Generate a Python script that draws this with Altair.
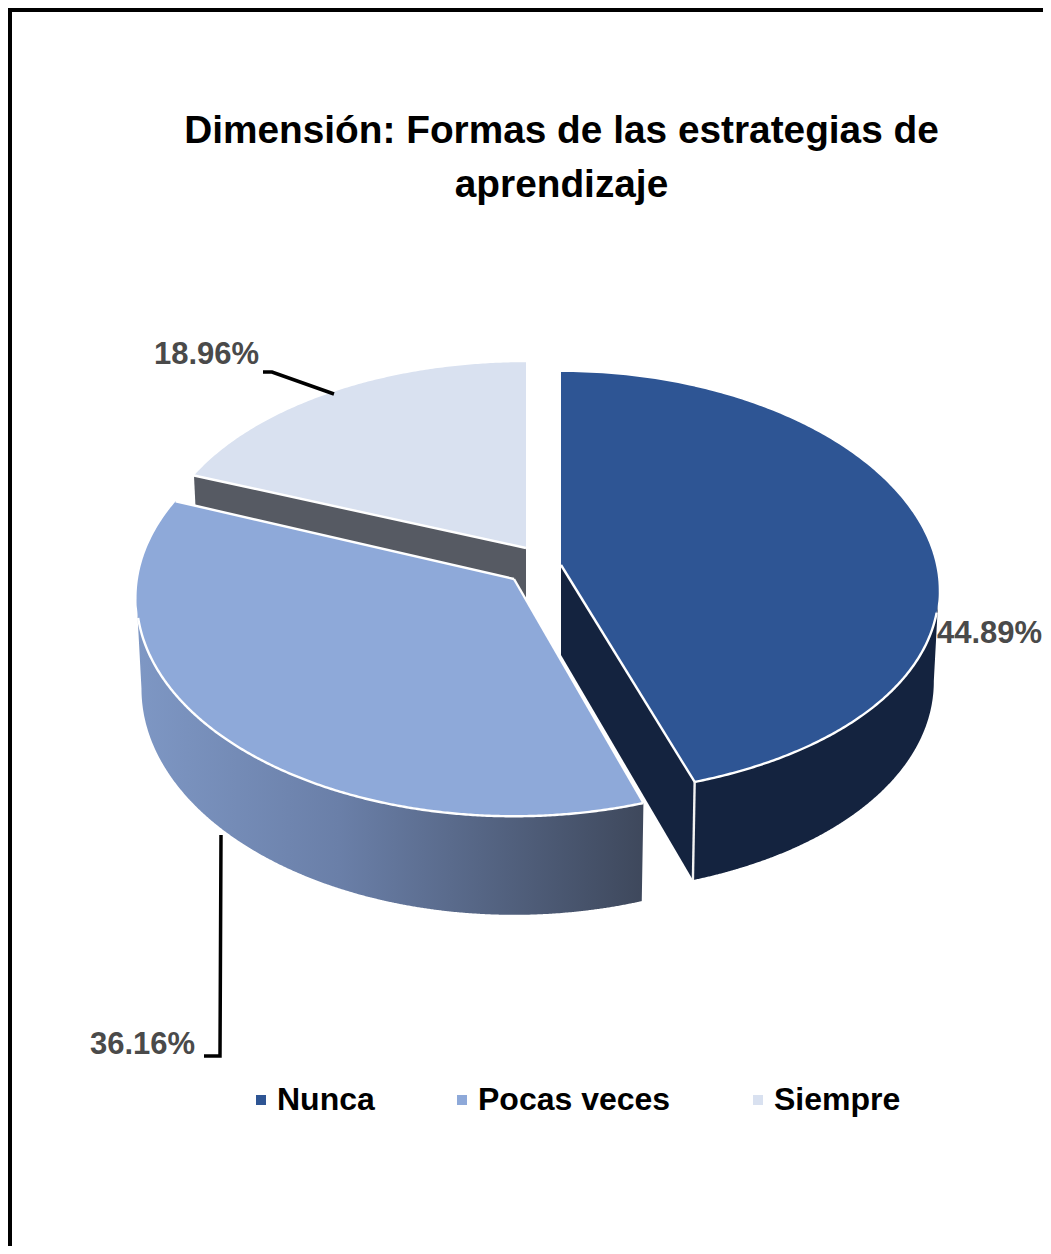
import numpy as np
import pandas as pd
import altair as alt

# ---- chart values ----
CATEGORIES = ["Nunca", "Pocas veces", "Siempre"]
VALUES = [44.89, 36.16, 18.96]
LABELS = ["44.89%", "36.16%", "18.96%"]
TITLE = ["Dimensión: Formas de las estrategias de", "aprendizaje"]

# ---- styling ----
COLORS = ["#2e5594", "#8ea9d9", "#d9e1f0"]
NAVY = "#14233f"
GREY = "#565a63"
FONT = "Liberation Sans"
W, H = 1035, 1238

# ---- pie geometry (perspective disc, exploded slices) ----
KY = 0.087
DEPTH = 90
SHRINK = 0.987
GEOM = {  # apex x, apex y, radius x, radius y, x perspective
    "Nunca": (561, 565, 375, 209.8, 0.12),
    "Pocas veces": (514, 579, 376, 216.6, 0.087),
    "Siempre": (526, 548, 369, 202, 0.087),
}
shares = np.array(VALUES) / sum(VALUES) * 360
starts = np.concatenate([[0], np.cumsum(shares)[:-1]])


def top(cat, deg):
    x0, y0, a, b, kx = GEOM[cat]
    t = np.radians(deg)
    u, v = np.sin(t), -np.cos(t)
    return x0 + a * u / (1 - kx * v), y0 + b * v / (1 - KY * v)


def bottom(cat, xs, ys):
    x0, y0, a, b, kx = GEOM[cat]
    v = (ys - y0) / b
    v = v / (1 + KY * v)
    return x0 + (xs - x0) * SHRINK, ys + DEPTH / (1 - KY * v)


def to_area(px, py):
    """Turn an x-monotone polygon into x / y / y2 columns for an area mark."""
    px, py = np.asarray(px, float), np.asarray(py, float)
    n = len(px)
    i0, i1 = int(np.argmin(px)), int(np.argmax(px))
    ia = [(i0 + k) % n for k in range((i1 - i0) % n + 1)]
    ib = [(i1 + k) % n for k in range((i0 - i1) % n + 1)][::-1]

    def chain(idx):
        cx, cy = px[idx].copy(), py[idx].copy()
        for j in range(1, len(cx)):
            cx[j] = max(cx[j], cx[j - 1] + 1e-6)
        return cx, cy

    ax, ay = chain(ia)
    bx, by = chain(ib)
    xs = np.unique(np.concatenate([ax, bx]))
    return pd.DataFrame({"x": xs, "y": np.interp(xs, ax, ay), "y2": np.interp(xs, bx, by)})


X = alt.X("x:Q", axis=None, scale=alt.Scale(domain=[8, 8 + W], nice=False, zero=False))
Y = alt.Y("y:Q", axis=None, scale=alt.Scale(domain=[8 + H, 8], nice=False, zero=False))
Y2 = alt.Y2("y2:Q")


def area_layer(df, color):
    return alt.Chart(df).mark_area(color=color, strokeWidth=0).encode(x=X, y=Y, y2=Y2)


def face_layer(cat):
    i = CATEGORIES.index(cat)
    deg = np.linspace(starts[i], starts[i] + shares[i], 160)
    tx, ty = top(cat, deg)
    x0, y0 = GEOM[cat][:2]
    df = to_area(np.r_[x0, tx], np.r_[y0, ty])
    df["series"] = cat
    return alt.Chart(df).mark_area(strokeWidth=0).encode(
        x=X, y=Y, y2=Y2,
        color=alt.Color(
            "series:N",
            scale=alt.Scale(domain=CATEGORIES, range=COLORS),
            legend=alt.Legend(
                title=None, orient="none", direction="horizontal",
                legendX=237, legendY=1076, symbolType="square", symbolSize=100,
                symbolStrokeWidth=0, labelFont=FONT, labelFontSize=32,
                labelFontWeight="bold", labelColor="#000000", labelOffset=0,
                columnPadding=71, padding=0, labelLimit=400, symbolOpacity=1,
            ),
        ),
    )


def wall_polygon(cat, deg):
    x0, y0 = GEOM[cat][:2]
    tx, ty = top(cat, np.array([deg]))
    bx, by = bottom(cat, tx, ty)
    ax, ay = bottom(cat, np.array([float(x0)]), np.array([float(y0)]))
    return [x0, tx[0], bx[0], ax[0]], [y0, ty[0], by[0], ay[0]]


def polyline(xs, ys, color, width):
    df = pd.DataFrame({"x": xs, "y": ys, "i": np.arange(len(xs))})
    return alt.Chart(df).mark_line(color=color, strokeWidth=width, strokeCap="butt",
                                   strokeJoin="miter").encode(x=X, y=Y, order="i:Q")


def edge(cat, deg, width=2.4):
    x0, y0 = GEOM[cat][:2]
    tx, ty = top(cat, np.array([deg]))
    return polyline([x0, tx[0]], [y0, ty[0]], "#ffffff", width)


layers = []

# frame (only the part inside the page's margin can be drawn)
frame = pd.DataFrame({"x": [8, 8], "x2": [8 + W, 12], "y": [8, 8], "y2": [12, 8 + H]})
layers.append(alt.Chart(frame).mark_rect(color="#000000").encode(x=X, x2="x2:Q", y=Y, y2=Y2))

# Siempre
end_s = starts[2]
layers.append(face_layer("Siempre"))
wx, wy = wall_polygon("Siempre", end_s)
layers.append(area_layer(to_area(wx, wy), GREY))
layers.append(edge("Siempre", end_s))

# Nunca
deg = np.linspace(0, shares[0], 400)
tx, ty = top("Nunca", deg)
k = int(np.argmax(tx))
bx, by = bottom("Nunca", tx[k:], ty[k:])
layers.append(area_layer(to_area(np.r_[tx[k:], bx[::-1]], np.r_[ty[k:], by[::-1]]), NAVY))
wx, wy = wall_polygon("Nunca", shares[0])
layers.append(area_layer(to_area(wx, wy), NAVY))
layers.append(face_layer("Nunca"))
layers.append(edge("Nunca", shares[0]))
layers.append(polyline(tx[k + 15:], ty[k + 15:], "#ffffff", 2.4))
layers.append(polyline([tx[-1], bx[-1]], [ty[-1], by[-1]], "#f2f2f2", 2.4))

# Pocas veces
deg = np.linspace(starts[1], starts[1] + shares[1], 400)
tx, ty = top("Pocas veces", deg)
k = int(np.argmin(tx))
bx, by = bottom("Pocas veces", tx[:k + 1], ty[:k + 1])
rim = area_layer(
    to_area(np.r_[tx[:k + 1], bx[::-1]], np.r_[ty[:k + 1], by[::-1]]),
    alt.Gradient(
        gradient="linear", x1=0, x2=1, y1=0, y2=0,
        stops=[
            alt.GradientStop(color="#7e97c4", offset=0),
            alt.GradientStop(color="#6a7fa8", offset=0.4),
            alt.GradientStop(color="#3e485c", offset=1),
        ],
    ),
)
layers.append(rim)
layers.append(face_layer("Pocas veces"))
layers.append(edge("Pocas veces", starts[1]))
layers.append(edge("Pocas veces", starts[1] + shares[1]))
layers.append(polyline(tx[:k - 15], ty[:k - 15], "#ffffff", 2.4))

# leader lines
layers.append(polyline([263, 272, 334], [372, 372, 394], "#000000", 3.5))
layers.append(polyline([221, 220, 204], [835, 1056, 1056], "#000000", 3.5))

# data labels
lab = pd.DataFrame({"x": [937, 90, 154], "y": [634, 1045, 355], "t": LABELS})
layers.append(
    alt.Chart(lab).mark_text(font=FONT, fontSize=31, fontWeight="bold", color="#4a4a4a",
                             align="left", baseline="middle")
    .encode(x=X, y=Y, text="t:N")
)

chart = (
    alt.layer(*layers)
    .properties(
        width=W, height=H, padding=0,
        autosize=alt.AutoSizeParams(type="none"),
        title=alt.TitleParams(
            text=TITLE, font=FONT, fontSize=38.8, fontWeight="bold", color="#000000",
            anchor="middle", dx=36, offset=-197, lineHeight=54,
        ),
    )
    .configure_view(stroke=None)
)

chart.save("out.html", embed_options={"renderer": "svg", "actions": False})
